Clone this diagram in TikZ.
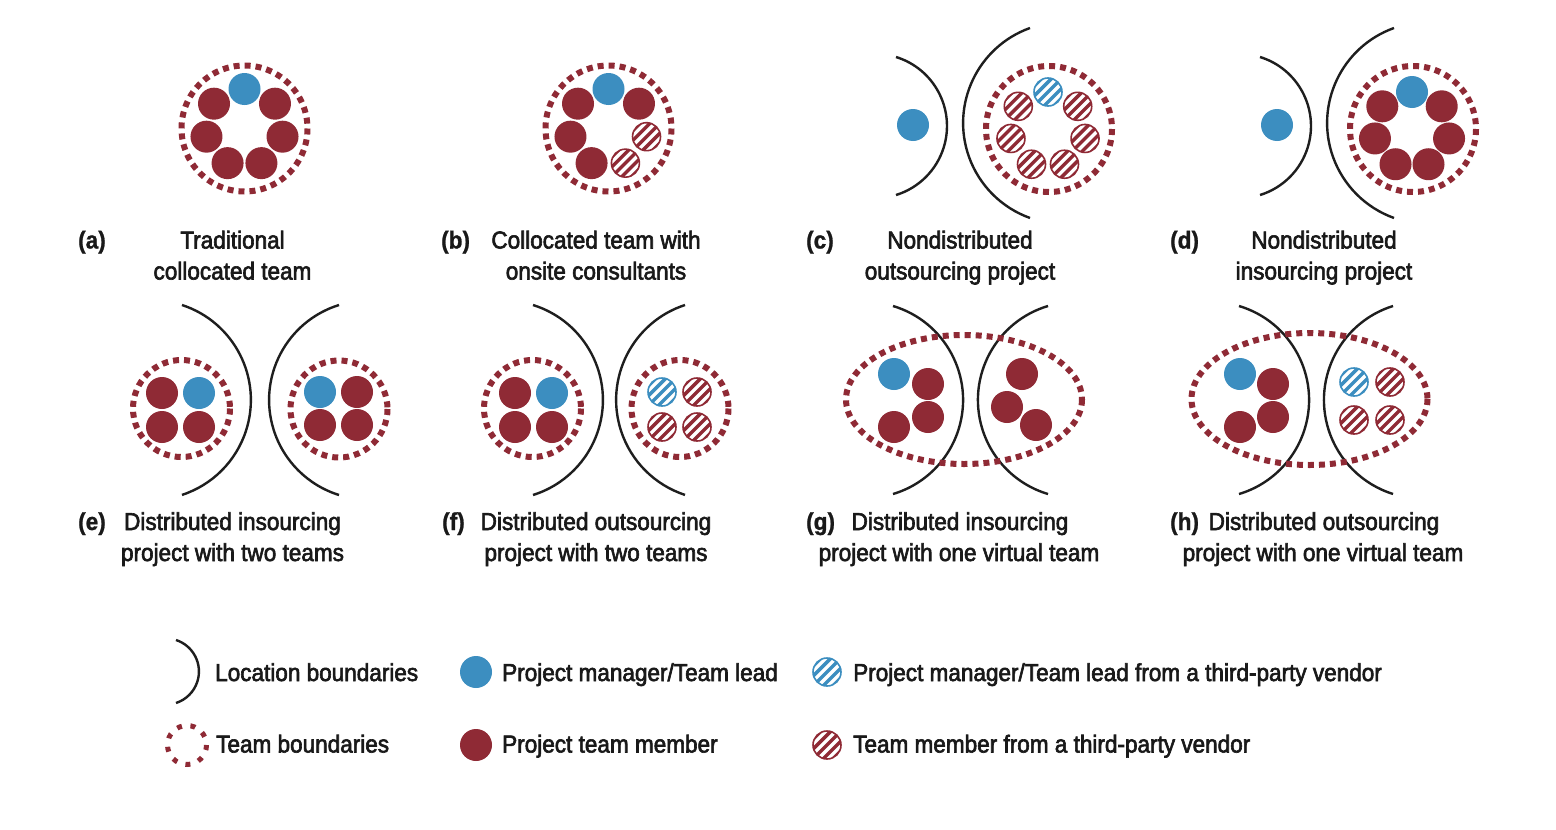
\documentclass[tikz,border=0pt]{standalone}
\usepackage{fontspec}
\setmainfont{Liberation Sans}[FakeStretch=0.92,UprightFeatures={FakeBold=2.5},BoldFeatures={FakeBold=1}]
\usetikzlibrary{calc}
\definecolor{tred}{RGB}{143,42,53}
\definecolor{tblue}{RGB}{60,142,192}
\definecolor{tline}{RGB}{30,30,30}
\definecolor{tblack}{RGB}{25,25,25}
\begin{document}
\begin{tikzpicture}[x=1pt,y=-1pt,
  mem/.style={circle,inner sep=0pt,minimum size=32pt,fill=tred},
  lead/.style={circle,inner sep=0pt,minimum size=32pt,fill=tblue},
  hatchc/.style={circle,inner sep=0pt,minimum size=28pt,fill=white,draw=#1,line width=1.6pt,
    path picture={\foreach \j in {-4,...,4}{\draw[#1,line width=3.4pt]
      ([shift={({\j*4.95-20},{\j*4.95+20})}]path picture bounding box.center) -- ++(40,-40);}}},
  vred/.style={hatchc=tred},
  vblue/.style={hatchc=tblue},
  teamb/.style={draw=tred,line width=6pt,dash pattern=on 6pt off 5pt},
  locb/.style={draw=tline,line width=2.4pt},
  txt/.style={inner sep=0pt,text=tblack,font=\fontsize{24.5}{30}\selectfont},
  lbl/.style={inner sep=0pt,text=tblack,font=\fontsize{24.5}{30}\selectfont\bfseries,anchor=base west},
  captxt/.style={txt,anchor=base},
  leg/.style={txt,anchor=base west}]
\useasboundingbox[fill=white] (0,0) rectangle (1556,830);

% ---------- (a)
\draw[teamb] (244.5,128.5) circle[radius=63];
\foreach \k/\s in {0/lead,1/mem,2/mem,3/mem,4/mem,5/mem,6/mem}
  \node[\s,name=a\k] at ($(244.5,128)+({-90-\k*51.4286}:39)$) {};
% ---------- (b)
\draw[teamb] (608.5,128.5) circle[radius=63];
\foreach \k/\s in {0/lead,1/mem,2/mem,3/mem,4/vred,5/vred,6/mem}
  \node[\s,name=b\k] at ($(608.5,128)+({-90-\k*51.4286}:39)$) {};
% ---------- (c)
\draw[locb] (896,57) arc[start angle=-72.9,end angle=72.9,radius=72.2];
\draw[locb] (1030,28) arc[start angle=250.3,end angle=109.7,radius=100.9];
\node[lead,name=c0] at (913,125) {};
\draw[teamb] (1049,129) circle[radius=63];
\foreach \k/\s in {0/vblue,1/vred,2/vred,3/vred,4/vred,5/vred,6/vred}
  \node[\s,name=c\k x] at ($(1048,130)+({-90-\k*51.4286}:38)$) {};
% ---------- (d)
\draw[locb] (1260,57) arc[start angle=-72.9,end angle=72.9,radius=72.2];
\draw[locb] (1394,28) arc[start angle=250.3,end angle=109.7,radius=100.9];
\node[lead,name=d0] at (1277,125) {};
\draw[teamb] (1413,129) circle[radius=63];
\foreach \k/\s in {0/lead,1/mem,2/mem,3/mem,4/mem,5/mem,6/mem}
  \node[\s,name=d\k x] at ($(1412,130)+({-90-\k*51.4286}:38)$) {};

% ---------- (e)
\draw[locb] (182,305) arc[start angle=-71.9,end angle=71.9,radius=99.9];
\draw[locb] (339,305) arc[start angle=252.7,end angle=107.3,radius=99.5];
\draw[teamb] (181.5,408.5) circle[radius=48.5];
\node[mem,name=e1] at (162,393) {};
\node[lead,name=e2] at (199,393) {};
\node[mem,name=e3] at (162,427) {};
\node[mem,name=e4] at (199,427) {};
\draw[teamb] (339,409) circle[radius=48.5];
\node[lead,name=e5] at (320,392) {};
\node[mem,name=e6] at (357,392) {};
\node[mem,name=e7] at (320,425) {};
\node[mem,name=e8] at (357,425) {};
% ---------- (f)
\draw[locb] (533,305) arc[start angle=-72.7,end angle=72.7,radius=99.5];
\draw[locb] (685,305) arc[start angle=251.9,end angle=108.1,radius=99.9];
\draw[teamb] (532.5,408.5) circle[radius=48.5];
\node[mem,name=f1] at (515,393) {};
\node[lead,name=f2] at (552,393) {};
\node[mem,name=f3] at (515,427) {};
\node[mem,name=f4] at (552,427) {};
\draw[teamb] (680,408.5) circle[radius=48.5];
\node[vblue,name=f5] at (662,392) {};
\node[vred,name=f6] at (697,392) {};
\node[vred,name=f7] at (662,427) {};
\node[vred,name=f8] at (697,427) {};
% ---------- (g)
\draw[locb] (893,306) arc[start angle=-73.4,end angle=73.4,radius=98.1];
\draw[locb] (1048,306) arc[start angle=253.4,end angle=106.6,radius=98.1];
\draw[teamb] (964,399.5) ellipse[x radius=118,y radius=64.5];
\node[lead,name=g1] at (894,374) {};
\node[mem,name=g2] at (928,384) {};
\node[mem,name=g3] at (928,417) {};
\node[mem,name=g4] at (894,427) {};
\node[mem,name=g5] at (1022,374) {};
\node[mem,name=g6] at (1007,407) {};
\node[mem,name=g7] at (1036,425) {};
% ---------- (h)
\draw[locb] (1239,306) arc[start angle=-73.4,end angle=73.4,radius=98.1];
\draw[locb] (1393,306) arc[start angle=252.6,end angle=107.4,radius=98.5];
\draw[teamb] (1309.5,399) ellipse[x radius=118,y radius=66];
\node[lead,name=h1] at (1240,374) {};
\node[mem,name=h2] at (1273,384) {};
\node[mem,name=h3] at (1273,417) {};
\node[mem,name=h4] at (1240,427) {};
\node[vblue,name=h5] at (1354,382) {};
\node[vred,name=h6] at (1390,382) {};
\node[vred,name=h7] at (1354,420) {};
\node[vred,name=h8] at (1390,420) {};

% ---------- captions row 1
\node[lbl,name=la] at (78,248.5) {(a)};
\node[captxt,name=ta1] at (232.5,248.5) {Traditional};
\node[captxt,name=ta2] at (232.5,279.5) {collocated team};
\node[lbl,name=lb] at (441,248.5) {(b)};
\node[captxt,name=tb1] at (596,248.5) {Collocated team with};
\node[captxt,name=tb2] at (596,279.5) {onsite consultants};
\node[lbl,name=lc] at (806,248.5) {(c)};
\node[captxt,name=tc1] at (960,248.5) {Nondistributed};
\node[captxt,name=tc2] at (960,279.5) {outsourcing project};
\node[lbl,name=ld] at (1170,248.5) {(d)};
\node[captxt,name=td1] at (1324,248.5) {Nondistributed};
\node[captxt,name=td2] at (1324,279.5) {insourcing project};
% ---------- captions row 2
\node[lbl,name=le] at (78,530) {(e)};
\node[captxt,name=te1] at (232.5,530) {Distributed insourcing};
\node[captxt,name=te2] at (232.5,561) {project with two teams};
\node[lbl,name=lf] at (442,530) {(f)};
\node[captxt,name=tf1] at (596,530) {Distributed outsourcing};
\node[captxt,name=tf2] at (596,561) {project with two teams};
\node[lbl,name=lg] at (806,530) {(g)};
\node[captxt,name=tg1] at (960,530) {Distributed insourcing};
\node[captxt,name=tg2] at (959,561) {project with one virtual team};
\node[lbl,name=lh] at (1170,530) {(h)};
\node[captxt,name=th1] at (1324,530) {Distributed outsourcing};
\node[captxt,name=th2] at (1323,561) {project with one virtual team};

% ---------- legend
\draw[locb] (176,640) arc[start angle=-72.1,end angle=72.1,radius=33.1];
\node[leg,name=k1] at (215,681) {Location boundaries};
\draw[teamb,line width=5pt,dash pattern=on 5pt off 8.6pt] (187,745) circle[radius=19.5];
\node[leg,name=k2] at (216,752.5) {Team boundaries};
\node[lead,name=k3c] at (476,672) {};
\node[leg,name=k3] at (502,681) {Project manager/Team lead};
\node[mem,name=k4c] at (476,745) {};
\node[leg,name=k4] at (502,752.5) {Project team member};
\node[vblue,name=k5c] at (827,672) {};
\node[leg,name=k5] at (853,681) {Project manager/Team lead from a third-party vendor};
\node[vred,name=k6c] at (827,745) {};
\node[leg,name=k6] at (853,752.5) {Team member from a third-party vendor};
\end{tikzpicture}
\end{document}
